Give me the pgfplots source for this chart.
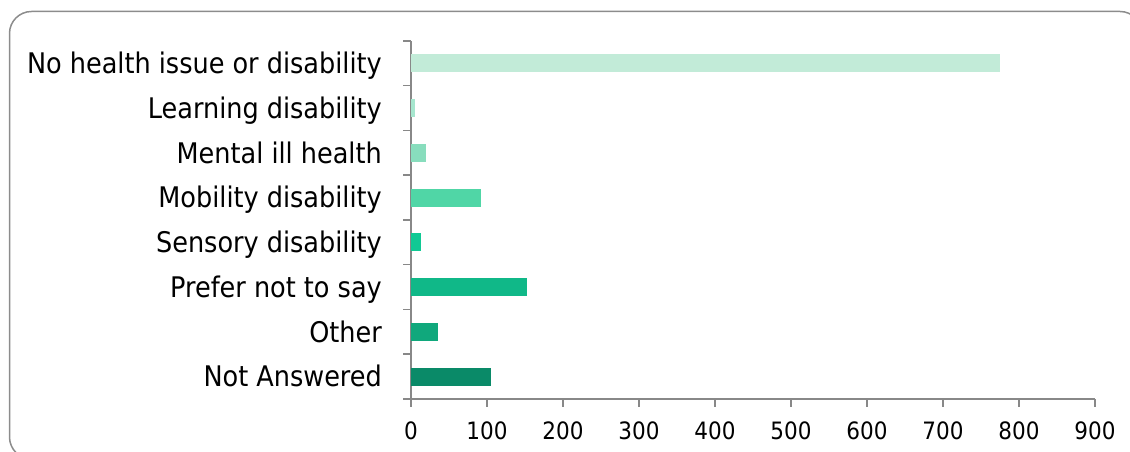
\documentclass[border=0pt]{standalone}
\usepackage{fontspec}
\setmainfont{DejaVu Sans Condensed}
\usepackage{pgfplots}
\pgfplotsset{compat=1.18}
\definecolor{axgray}{RGB}{136,136,136}
\definecolor{framegray}{RGB}{140,140,140}
\definecolor{c1}{RGB}{194,235,216}
\definecolor{c2}{RGB}{166,230,206}
\definecolor{c3}{RGB}{136,221,189}
\definecolor{c4}{RGB}{80,214,166}
\definecolor{c5}{RGB}{16,201,148}
\definecolor{c6}{RGB}{16,184,136}
\definecolor{c7}{RGB}{16,168,124}
\definecolor{c8}{RGB}{10,138,104}
\begin{document}
\begin{tikzpicture}[x=1bp,y=1bp]
\useasboundingbox (0,0) rectangle (1130,452);
\clip (0,0) rectangle (1130,452);
\draw[framegray, line width=1.5bp, rounded corners=22bp] (9.5,-7) rectangle (1142,440.5);
\begin{axis}[
  at={(411bp,53bp)}, anchor=south west,
  width=684bp, height=358bp, scale only axis,
  xmin=0, xmax=900, ymin=-0.5, ymax=7.5,
  xbar, bar width=18bp, bar shift=0pt,
  axis x line*=bottom, axis y line*=left,
  axis line style={draw=axgray, line width=1.5bp, -},
  tick style={draw=axgray, line width=1.5bp},
  tick align=outside, major tick length=8bp,
  xtick={0,100,...,900},
  ytick={-0.5,0.5,...,7.5},
  y tick label as interval,
  yticklabels={Not Answered,Other,Prefer not to say,Sensory disability,Mobility disability,Mental ill health,Learning disability,No health issue or disability},
  /pgf/number format/assume math mode=true,
  yticklabel style={font=\fontsize{28.5}{30}\selectfont, anchor=east, inner sep=0pt, text height=20.5bp, text depth=0pt, xshift=-21bp},
  xticklabel style={font=\fontsize{24}{26}\selectfont, anchor=north, inner sep=0pt, text height=17.7bp, text depth=0pt, yshift=-14.7bp},
]
\addplot[fill=c8, draw=none] coordinates {(105,0)};
\addplot[fill=c7, draw=none] coordinates {(35,1)};
\addplot[fill=c6, draw=none] coordinates {(153,2)};
\addplot[fill=c5, draw=none] coordinates {(13,3)};
\addplot[fill=c4, draw=none] coordinates {(92,4)};
\addplot[fill=c3, draw=none] coordinates {(20,5)};
\addplot[fill=c2, draw=none] coordinates {(5,6)};
\addplot[fill=c1, draw=none] coordinates {(775,7)};
\end{axis}
\end{tikzpicture}
\end{document}
